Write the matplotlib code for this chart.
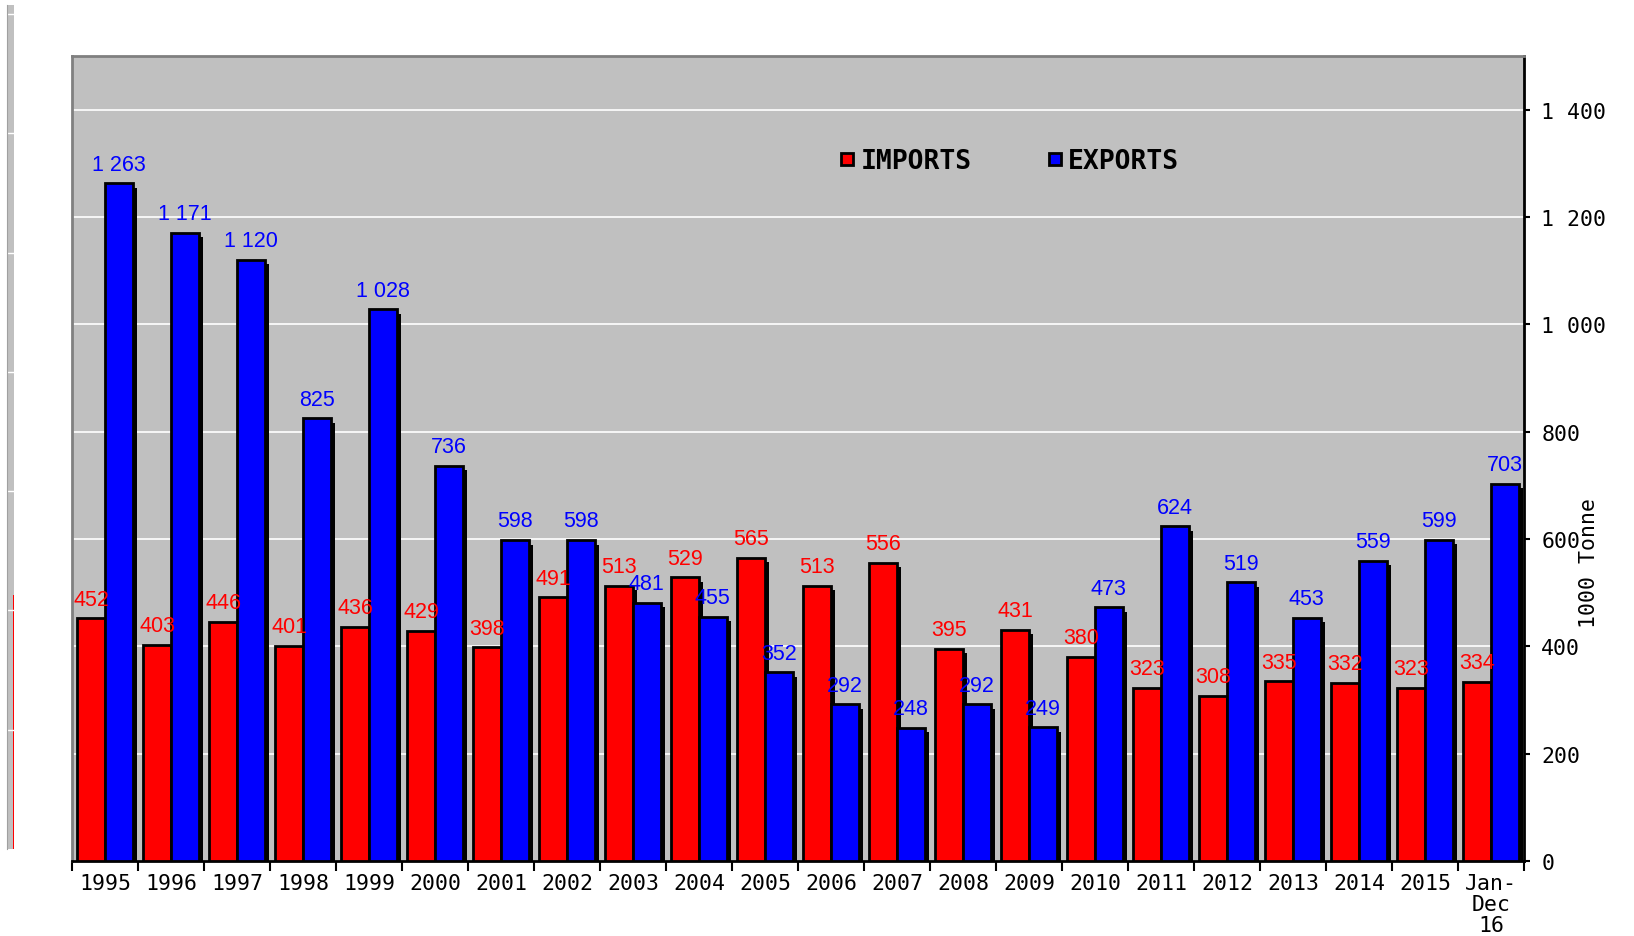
import numpy as np
import matplotlib
matplotlib.use('Agg')
from matplotlib import pyplot as plt
from matplotlib import patheffects as pe
from matplotlib.lines import Line2D

years = ['1995', '1996', '1997', '1998', '1999', '2000', '2001', '2002', '2003', '2004', '2005',
         '2006', '2007', '2008', '2009', '2010', '2011', '2012', '2013', '2014', '2015', 'Jan-\nDec\n16']
imports = [452, 403, 446, 401, 436, 429, 398, 491, 513, 529, 565,
           513, 556, 395, 431, 380, 323, 308, 335, 332, 323, 334]
exports = [1263, 1171, 1120, 825, 1028, 736, 598, 598, 481, 455, 352,
           292, 248, 292, 249, 473, 624, 519, 453, 559, 599, 703]
yticks = [0, 200, 400, 600, 800, 1000, 1200, 1400]

mono = 'DejaVu Sans Mono'
narrow = ['Liberation Sans Narrow', 'Liberation Sans']
silver = '#c0c0c0'

def fmt(v):
    return '{:,}'.format(v).replace(',', ' ')

fig = plt.figure(figsize=(16.34, 9.37), dpi=100)

# leftover strip on the far left
ax0 = fig.add_axes([7 / 1634, 87 / 937, 7 / 1634, 844 / 937])
ax0.set_facecolor(silver)
ax0.set_xlim(0, 1)
ax0.set_ylim(0, 1500)
ax0.bar([0.8], [imports[0]], width=0.3, color='red', align='edge')
for v in yticks[1:]:
    ax0.axhline(v * 1.06, color='white', lw=1)
for s in ['top', 'right', 'bottom']:
    ax0.spines[s].set_visible(False)
ax0.spines['left'].set_color('#a0a0a0')
ax0.set_xticks([])
ax0.set_yticks([])

ax = fig.add_axes([72 / 1634, 75 / 937, 1452 / 1634, 805 / 937])
ax.set_facecolor(silver)
x = np.arange(len(years))
w = 0.42

shadow = [pe.SimplePatchShadow(offset=(3.2, -3.2), shadow_rgbFace='black', alpha=1), pe.Normal()]
rb = ax.bar(x - w, imports, width=w, align='edge', color='red', edgecolor='black', lw=2, zorder=3)
bb = ax.bar(x, exports, width=w, align='edge', color='blue', edgecolor='black', lw=2, zorder=3)
for p in list(rb) + list(bb):
    p.set_path_effects(shadow)

for i in range(len(years)):
    ax.text(x[i] - w / 2, imports[i] + 16, fmt(imports[i]), color='red', ha='center', va='bottom',
            family=narrow, fontsize=15.5, zorder=4)
    ax.text(x[i] + w / 2, exports[i] + 16, fmt(exports[i]), color='blue', ha='center', va='bottom',
            family=narrow, fontsize=15.5, zorder=4)

ax.set_xlim(-0.5, len(years) - 0.5)
ax.set_ylim(0, 1500)
ax.set_yticks(yticks)
ax.set_yticklabels([fmt(v) for v in yticks], family=mono, fontsize=15.5)
ax.yaxis.tick_right()
ax.yaxis.set_label_position('right')
ax.set_ylabel('1000 Tonne', family=mono, fontsize=15.5)
ax.yaxis.set_label_coords(1.038, 0.371)
ax.tick_params(axis='y', length=4.5, width=1.5, pad=8)
ax.grid(axis='y', color='white', lw=1.2, zorder=1)

ax.set_xticks(x)
ax.set_xticklabels(years, family=mono, fontsize=15.5, linespacing=1.05)
ax.tick_params(axis='x', length=0, pad=9)
ax.set_xticks(np.arange(-0.5, len(years)), minor=True)
ax.tick_params(axis='x', which='minor', length=7, width=1.5)

ax.spines['left'].set_color('#808080')
ax.spines['top'].set_color('#808080')
for s in ['left', 'top', 'right', 'bottom']:
    ax.spines[s].set_linewidth(2)

handles = [Line2D([], [], ls='none', marker='s', markersize=9, markerfacecolor='red',
                  markeredgecolor='black', markeredgewidth=2),
           Line2D([], [], ls='none', marker='s', markersize=9, markerfacecolor='blue',
                  markeredgecolor='black', markeredgewidth=2)]
ax.legend(handles, ['IMPORTS', 'EXPORTS'], ncol=2, frameon=False, loc='center',
          bbox_to_anchor=(0.646, 0.869), handlelength=0.5, handletextpad=0.25, columnspacing=2.9,
          prop={'family': mono, 'weight': 'bold', 'size': 19})

fig.savefig('out.png', dpi=100)
